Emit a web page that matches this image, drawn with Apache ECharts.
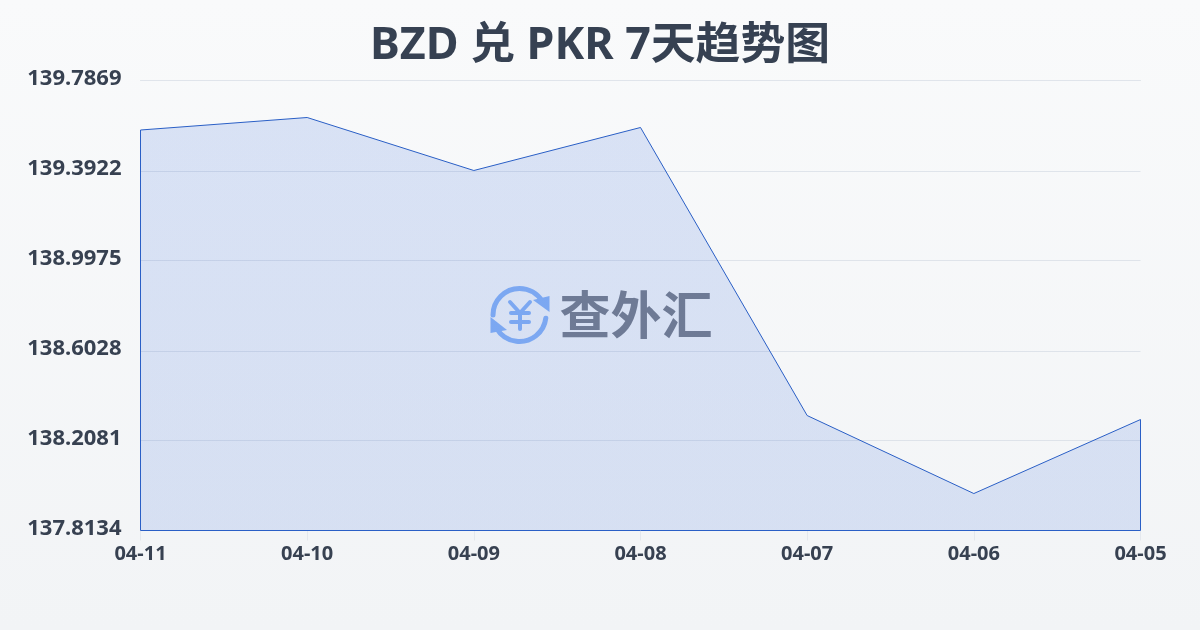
<!DOCTYPE html>
<html><head><meta charset="utf-8">
<script src="https://cdn.jsdelivr.net/npm/echarts@6/dist/echarts.min.js"></script>
<style>html,body{margin:0;padding:0;width:1200px;height:630px;overflow:hidden}#c{width:1200px;height:630px}</style>
</head><body><div id="c"></div>
<script>
const titleText = 'BZD 兑 PKR 7天趋势图';
const watermarkText = '查外汇';
const categories = ['04-11','04-10','04-09','04-08','04-07','04-06','04-05'];
const rates = [139.5698,139.6246,139.3922,139.5808,138.3176,137.9755,138.3001];
const tickValues = [137.8134,138.2081,138.6028,138.9975,139.3922,139.7869];
const yMin = 137.8134, yMax = 139.7869;
const lineBlue = '#2a5fc6';
const wmBlue = '#8ab4f6';
const inkColor = '#374151';
const chart = echarts.init(document.getElementById('c'), null, {renderer:'canvas'});
const last = categories.length - 1;
const yLabelFont = {fontFamily:'"Noto Sans"',fontWeight:'bold',fontSize:22,color:inkColor};
chart.setOption({
  animation:false,
  backgroundColor:new echarts.graphic.LinearGradient(0,0,0,1,[{offset:0,color:'#f9fafb'},{offset:1,color:'#f2f4f6'}]),
  title:{text:titleText,left:'center',top:19,textStyle:{fontFamily:'"Noto Sans","Noto Sans CJK SC"',fontWeight:'bold',fontSize:44.8,color:'#364152'}},
  grid:{left:140.5,top:80.5,width:1000,height:450,containLabel:false},
  xAxis:[{type:'category',data:categories,boundaryGap:false,
    axisLine:{show:false},axisTick:{show:true,length:10,lineStyle:{color:'rgba(200,208,220,0.35)',width:1}},
    axisLabel:{fontFamily:'"Noto Sans"',fontWeight:'bold',fontSize:20,color:inkColor,margin:14,interval:0,hideOverlap:false},
    splitLine:{show:false}},
   {type:'category',position:'top',data:categories,boundaryGap:false,
    axisLine:{show:true,onZero:false,lineStyle:{color:'rgba(200,208,220,0.5)',width:1}},axisTick:{show:false},axisLabel:{show:false},splitLine:{show:false}}],
  yAxis:{type:'value',min:yMin,max:yMax,
    axisLine:{show:false},axisTick:{show:false},
    axisLabel:{customValues:tickValues,...yLabelFont,margin:19,
      rich:{t:{...yLabelFont,padding:[0,0,3,0]}},
      formatter:v=>'{t|'+Number(v).toFixed(4)+'}'},
    splitLine:{show:false}},
  series:[
    {type:'line',data:rates,symbol:'none',smooth:false,z:3,clip:false,
     lineStyle:{color:lineBlue,width:1},
     areaStyle:{opacity:1,origin:'start',color:new echarts.graphic.LinearGradient(0,0,0,1,[{offset:0,color:'rgba(40,95,215,0.15)'},{offset:1,color:'rgba(40,95,215,0.14)'}])},
     markLine:{silent:true,symbol:'none',label:{show:false},z:2,
       lineStyle:{color:'rgba(200,208,220,0.5)',width:1,type:'solid'},
       data:tickValues.map(v=>({yAxis:v}))}},
    {type:'line',data:[[0,rates[0]],[0,yMin],[last,yMin],[last,rates[last]]],symbol:'none',z:3,silent:true,lineStyle:{color:lineBlue,width:1}}
  ],
  graphic:[
    {type:'group',z:10,silent:true,children:[
      {type:'arc',shape:{cx:519.5,cy:315,r:26.5,startAngle:Math.PI,endAngle:Math.PI*1.83},style:{fill:null,stroke:wmBlue,lineWidth:5,lineCap:'round'}},
      {type:'arc',shape:{cx:519.5,cy:315,r:26.5,startAngle:0.12,endAngle:Math.PI*0.83},style:{fill:null,stroke:wmBlue,lineWidth:5,lineCap:'round'}},
      {type:'polygon',shape:{points:[[533,300],[549.5,296],[549.5,312]]},style:{fill:wmBlue}},
      {type:'polygon',shape:{points:[[490.5,317],[490.5,333],[507,330]]},style:{fill:wmBlue}},
      {type:'polyline',shape:{points:[[510,302],[520,313],[530,302]]},style:{fill:null,stroke:wmBlue,lineWidth:4,lineCap:'round',lineJoin:'round'}},
      {type:'line',shape:{x1:520,y1:313,x2:520,y2:329},style:{stroke:wmBlue,lineWidth:4,lineCap:'round'}},
      {type:'line',shape:{x1:511,y1:313,x2:529,y2:313},style:{stroke:wmBlue,lineWidth:4,lineCap:'round'}},
      {type:'line',shape:{x1:511,y1:322,x2:529,y2:322},style:{stroke:wmBlue,lineWidth:4,lineCap:'round'}},
      {type:'text',style:{x:636,y:315,text:watermarkText,align:'center',verticalAlign:'middle',fontFamily:'"Noto Sans CJK SC"',fontWeight:'bold',fontSize:51,fill:'#7a7f8a'}}
    ]}
  ]
});
</script></body></html>
